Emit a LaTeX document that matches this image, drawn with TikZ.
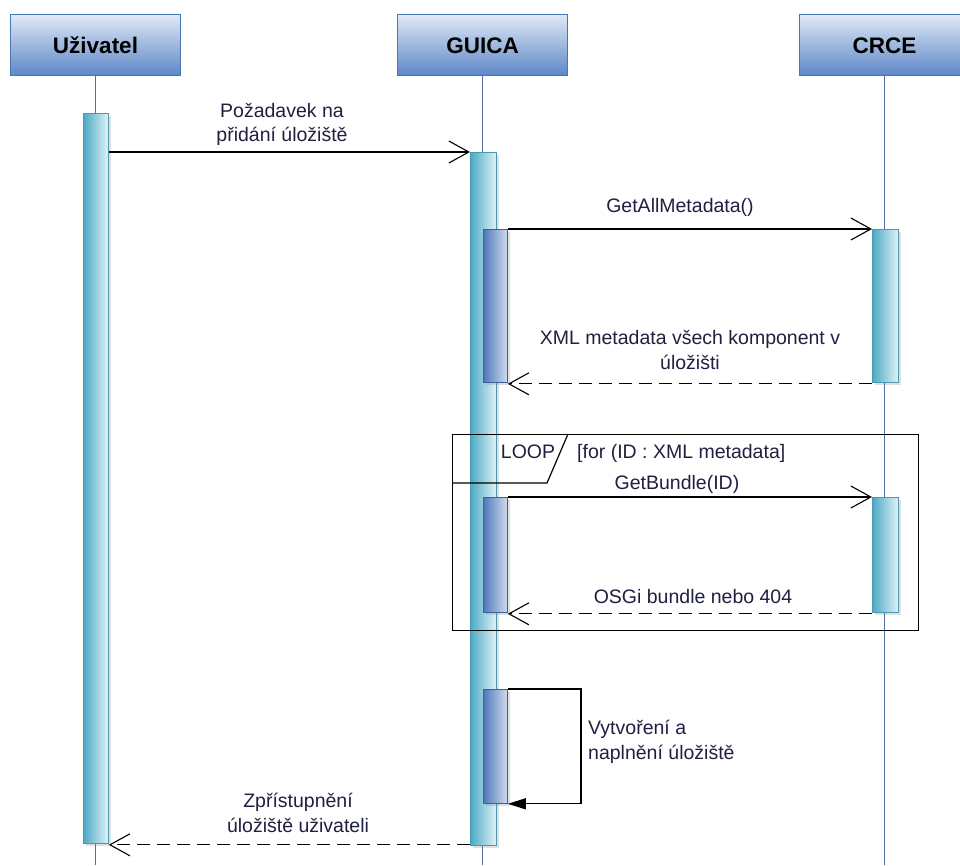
\documentclass[tikz,border=0pt]{standalone}
\usepackage{fontspec}
\setmainfont{Liberation Sans}
\usetikzlibrary{arrows.meta,shadows,calc}
\definecolor{hdrtop}{HTML}{E0E9F5}
\definecolor{hdrbot}{HTML}{5C87C8}
\definecolor{hdrborder}{HTML}{4A76B8}
\definecolor{lifec}{HTML}{4F6FA8}
\definecolor{barleft}{HTML}{4BAAC4}
\definecolor{barright}{HTML}{E2F2F7}
\definecolor{barborder}{HTML}{4A98B0}
\definecolor{ibleft}{HTML}{5077BB}
\definecolor{ibright}{HTML}{D0DCEE}
\definecolor{ibborder}{HTML}{3D5E98}
\definecolor{txt}{HTML}{1F2040}
\begin{document}
\begin{tikzpicture}[x=1pt,y=-1pt,
  hdr/.style={draw=hdrborder, line width=1pt, top color=hdrtop, bottom color=hdrbot,
    minimum width=170pt, minimum height=61pt, anchor=north west, inner sep=0pt,
    font=\fontsize{22.5}{27}\selectfont\bfseries, text height=16pt, text depth=0pt},
  life/.style={draw=lifec, line width=1.3pt},
  actbar/.style={draw=barborder, line width=0.8pt, left color=barleft, right color=barright,
    anchor=north west, inner sep=0pt, minimum width=26pt,
    drop shadow={opacity=0.25, shadow xshift=2.5pt, shadow yshift=-3pt}},
  innerbar/.style={draw=ibborder, line width=0.8pt, left color=ibleft, right color=ibright,
    anchor=north west, inner sep=0pt, minimum width=24pt,
    drop shadow={opacity=0.25, shadow xshift=2.5pt, shadow yshift=-3pt}},
  msg/.style={draw=black, line width=1.2pt, -{Straight Barb[length=20pt,width=22pt,line width=1.1pt]}},
  ret/.style={msg, dash pattern=on 13pt off 7pt},
  selfmsg/.style={draw=black, line width=1.2pt, -{Triangle[length=18pt,width=11pt]}},
  lbl/.style={text=txt, font=\fontsize{19.5}{24.5}\selectfont, inner sep=0pt, align=center, anchor=base},
  frame/.style={draw=black, line width=1.2pt}
]
\useasboundingbox (0,0) rectangle (960,865);
\clip (0,0) rectangle (960,865);
\coordinate (bottom) at (0,865);

% headers
\node[hdr] (huz) at (10,14) {Uživatel};
\node[hdr] (hgu) at (397,14) {GUICA};
\node[hdr] (hcr) at (799,14) {CRCE};

% lifelines
\draw[life] (huz.south) -- (huz.south |- bottom);
\draw[life] (hgu.south) -- (hgu.south |- bottom);
\draw[life] (hcr.south) -- (hcr.south |- bottom);

% activation bars
\node[actbar, minimum width=25pt, minimum height=730pt] (ubar) at (83,113) {};
\node[actbar, minimum height=693pt] (gbar) at (470,152) {};
\node[actbar, minimum height=153pt] (cbar1) at (872,229) {};
\node[actbar, minimum height=115pt] (cbar2) at (872,497) {};
\node[innerbar, minimum height=153pt] (ib1) at (483,229) {};
\node[innerbar, minimum height=115pt] (ib2) at (483,497) {};
\node[innerbar, minimum height=114pt] (ib3) at (483,689) {};

% loop frame
\node[frame, anchor=north west, minimum width=466pt, minimum height=196pt, inner sep=0pt] (loop) at (452,434) {};
\coordinate (tabb) at (547,483);
\coordinate (tabt) at (568,434);
\draw[frame] (loop.west |- tabb) -- (tabb) -- (tabt);
\node[lbl] (looplbl) at (528,458.3) {LOOP};
\node[lbl, anchor=base west] (guard) at (577,458.3) {[for (ID : XML metadata]};

% messages
\draw[msg] (ubar.east |- gbar.north west) -- (gbar.north west);
\node[lbl] (l1) at (282,141.5) {Požadavek na\\přidání úložiště};

\draw[msg] (ib1.north east) -- (cbar1.north west);
\node[lbl] (l2) at (680,212.7) {GetAllMetadata()};

\draw[ret] ($(cbar1.south west)+(0,1)$) -- ($(ib1.south east)+(0,1)$);
\node[lbl] (l3) at (690,369) {XML metadata všech komponent v\\úložišti};

\draw[msg] (ib2.north east) -- (cbar2.north west);
\node[lbl] (l4) at (677,489) {GetBundle(ID)};

\draw[ret] ($(cbar2.south west)+(0,1)$) -- ($(ib2.south east)+(0,1)$);
\node[lbl] (l5) at (693,603) {OSGi bundle nebo 404};

\coordinate (selfx) at (581,700);
\draw[selfmsg] (ib3.north east) -| (selfx |- ib3.south east) -- (ib3.south east);
\node[lbl, anchor=base west, align=left] (l6) at (588,759) {Vytvoření a\\naplnění úložiště};

\draw[ret] ($(gbar.west |- ubar.south)+(0,1)$) -- ($(ubar.south east)+(0,1)$);
\node[lbl] (l7) at (298,832) {Zpřístupnění\\úložiště uživateli};
\end{tikzpicture}
\end{document}
